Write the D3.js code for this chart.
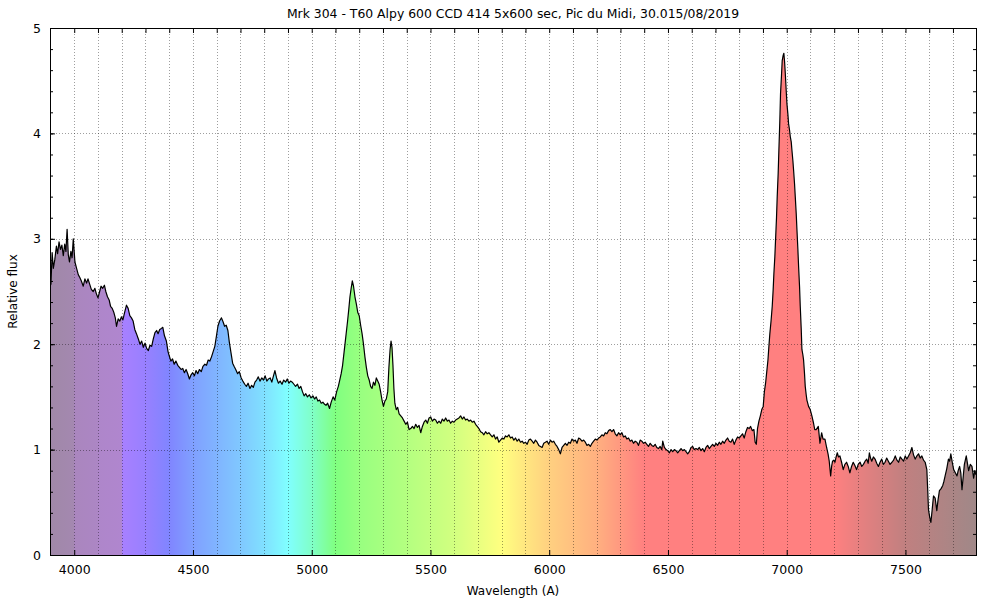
<!DOCTYPE html>
<html><head><meta charset="utf-8">
<script src="https://cdn.jsdelivr.net/npm/d3@7"></script>
<style>
body{margin:0;background:#fff;}
svg text{font-family:"DejaVu Sans",Verdana,sans-serif;fill:#000;}
</style></head>
<body><svg id="chart" width="1000" height="600"></svg>
<script>
const title = "Mrk 304 - T60 Alpy 600 CCD 414 5x600 sec, Pic du Midi, 30.015/08/2019";
const xLabel = "Wavelength (A)";
const yLabel = "Relative flux";
const xTickValues = [4000,4500,5000,5500,6000,6500,7000,7500];
const yTickValues = [0,1,2,3,4,5];
const xDomain = [3898, 7797];
const yDomain = [0, 5];

const wavelength = [3898,3902,3907,3912,3918,3925,3930,3936,3942,3948,3954,3960,3965,3970,3975,3980,3986,3991,3996,
4003,4010,4017,4024,4030,4038,4045,4052,4058,4065,4072,4080,4087,4093,4100,4107,4113,4120,4127,4133,4140,4147,4153,4160,4167,4173,4178,4185,4192,4199,
4205,4212,4220,4227,4234,4241,4248,4255,4262,4270,4277,4284,4291,4298,4305,4312,4319,4326,4333,4340,4347,4353,4360,4367,4373,4380,4388,4395,
4400,4407,4414,4421,4428,4436,4443,4450,4457,4464,4471,4478,4485,4492,4499,4506,4513,4520,4527,4535,4542,4550,4557,4564,4571,4578,4585,4592,4599,
4605,4612,4620,4627,4633,4640,4647,4653,4660,4667,4673,4680,4688,4695,4703,4710,4718,4725,4732,4740,4747,4754,4761,4768,4775,4782,4790,4797,
4804,4811,4818,4825,4832,4839,4845,4852,4860,4867,4875,4882,4890,4897,4904,4911,4918,4925,4932,4940,4947,4954,4961,4968,4975,4982,4990,4997,
5005,5012,5019,5026,5033,5040,5047,5054,5060,5067,5075,5082,5090,5097,5105,5112,5118,5124,5130,5136,5141,5146,5151,5156,5161,5166,5171,5176,5182,5188,5194,
5200,5206,5212,5218,5224,5230,5236,5242,5248,5254,5260,5266,5272,5278,5284,5290,5296,5302,5308,5314,5320,5325,5330,5334,5338,5342,5346,5350,5356,5362,5368,5375,5382,5389,5396,
5403,5410,5417,5424,5431,5438,5445,5452,5459,5466,5473,5480,5487,5494,5501,5508,5515,5522,5529,5536,5543,5550,5557,5564,5571,5578,5585,5592,5599,
5606,5613,5620,5627,5634,5641,5648,5655,5662,5669,5676,5683,5690,5697,5704,5711,5718,5725,5732,5739,5746,5753,5760,5767,5774,5781,5788,5795,
5802,5809,5816,5823,5830,5837,5844,5851,5858,5865,5872,5879,5886,5893,5900,5907,5914,5921,5928,5935,5942,5949,5956,5963,5970,5977,5984,5991,5998,
6005,6012,6019,6026,6033,6040,6047,6054,6061,6068,6075,6082,6089,6096,6103,6110,6117,6124,6131,6138,6145,6152,6159,6166,6173,6180,6187,6194,
6201,6208,6215,6222,6229,6236,6243,6250,6257,6264,6271,6278,6285,6292,6299,6306,6313,6320,6327,6334,6341,6348,6355,6362,6369,6376,6383,6390,6397,
6404,6411,6418,6425,6432,6439,6446,6453,6460,6467,6474,6478,6485,6492,6499,6506,6513,6520,6527,6534,6541,6548,6555,6562,6569,6576,6583,6590,6597,
6604,6611,6618,6625,6632,6639,6646,6653,6660,6667,6674,6681,6688,6695,6702,6709,6716,6723,6730,6737,6744,6751,6758,6765,6772,6779,6786,6793,
6800,6807,6814,6821,6828,6835,6842,6848,6855,6862,6867,6872,6877,6883,6889,6895,6901,6906,6911,6916,6921,6925,6929,6934,6939,6943,6946,6950,6953,6957,6960,6964,6967,6971,6974,6978,6981,6985,6988,6991,6994,6998,
7001,7005,7008,7012,7015,7019,7022,7026,7029,7033,7036,7040,7043,7047,7050,7054,7057,7061,7064,7068,7071,7075,7078,7082,7085,7092,7099,
7106,7113,7118,7124,7133,7140,7147,7153,7161,7168,7174,7179,7185,7189,7193,7198,
7203,7208,7213,7218,7224,7231,7238,7245,7252,7259,7266,7273,7280,7287,7294,
7301,7309,7316,7323,7330,7337,7343,7348,7353,7358,7365,7372,7379,7386,7393,
7400,7407,7414,7421,7428,7435,7443,7450,7457,7464,7471,7478,7485,7492,7499,
7506,7513,7520,7527,7534,7541,7548,7555,7562,7569,7576,7583,7590,7594,7597,
7602,7607,7612,7618,7625,7632,7637,7643,7650,7657,7662,7667,7674,7681,7686,7691,7697,
7703,7710,7717,7722,7728,7733,7738,7743,7748,7752,7756,7761,7766,7773,7780,7784,7787,7792,7797];

const flux = [2.55,2.57,2.87,2.72,2.80,2.93,2.86,2.97,2.90,2.94,2.84,2.95,2.88,3.09,2.85,2.78,2.88,2.82,3.00,
2.78,2.72,2.66,2.63,2.60,2.55,2.62,2.58,2.62,2.57,2.52,2.50,2.53,2.48,2.44,2.50,2.55,2.53,2.56,2.50,2.45,2.42,2.36,2.34,2.30,2.25,2.17,2.24,2.22,2.26,
2.23,2.30,2.37,2.34,2.27,2.25,2.22,2.14,2.10,2.05,2.00,2.03,1.97,2.01,1.96,1.94,1.99,1.98,2.05,2.11,2.13,2.10,2.14,2.15,2.16,2.08,2.03,1.93,
1.89,1.84,1.86,1.81,1.84,1.80,1.78,1.76,1.77,1.73,1.76,1.72,1.67,1.71,1.73,1.70,1.75,1.72,1.76,1.74,1.79,1.81,1.80,1.85,1.84,1.88,1.93,1.98,2.08,
2.17,2.22,2.25,2.21,2.17,2.18,2.13,2.02,1.92,1.82,1.79,1.76,1.72,1.74,1.68,1.65,1.62,1.60,1.63,1.58,1.61,1.59,1.64,1.66,1.69,1.65,1.68,1.66,
1.70,1.65,1.67,1.68,1.64,1.70,1.75,1.68,1.63,1.65,1.62,1.66,1.64,1.67,1.63,1.65,1.64,1.62,1.60,1.62,1.58,1.60,1.55,1.51,1.53,1.50,1.52,1.49,
1.51,1.48,1.50,1.46,1.47,1.44,1.45,1.43,1.42,1.44,1.39,1.45,1.50,1.47,1.55,1.60,1.66,1.72,1.80,1.92,2.02,2.12,2.22,2.33,2.45,2.53,2.60,2.55,2.45,2.38,2.30,
2.27,2.18,2.10,2.00,1.88,1.78,1.70,1.66,1.60,1.58,1.64,1.61,1.68,1.65,1.62,1.55,1.47,1.41,1.46,1.48,1.55,1.78,1.95,2.03,1.97,1.80,1.58,1.44,1.38,1.40,1.34,1.32,1.30,1.27,1.24,
1.26,1.19,1.20,1.22,1.20,1.24,1.21,1.23,1.16,1.22,1.26,1.28,1.25,1.30,1.31,1.27,1.29,1.28,1.25,1.27,1.25,1.29,1.27,1.30,1.27,1.28,1.25,1.27,1.26,
1.28,1.29,1.30,1.32,1.29,1.31,1.28,1.29,1.27,1.28,1.26,1.27,1.24,1.22,1.20,1.17,1.16,1.14,1.17,1.15,1.16,1.14,1.12,1.14,1.10,1.12,1.07,1.09,
1.11,1.10,1.13,1.12,1.14,1.11,1.12,1.09,1.11,1.08,1.10,1.07,1.08,1.06,1.07,1.05,1.09,1.10,1.08,1.06,1.09,1.07,1.04,1.03,1.02,1.06,1.07,1.08,1.05,
1.09,1.07,1.08,1.05,1.03,1.00,0.96,1.02,1.04,1.06,1.04,1.07,1.06,1.10,1.08,1.09,1.06,1.11,1.10,1.08,1.09,1.07,1.04,1.05,1.03,1.06,1.08,1.10,
1.09,1.11,1.12,1.14,1.13,1.16,1.15,1.18,1.19,1.17,1.19,1.15,1.13,1.16,1.14,1.16,1.12,1.13,1.10,1.11,1.08,1.09,1.06,1.08,1.07,1.04,1.09,1.08,1.06,
1.07,1.05,1.03,1.06,1.04,1.03,1.05,1.02,1.01,1.03,1.00,1.08,1.02,1.00,0.99,0.97,1.00,0.98,1.00,0.99,0.97,0.99,1.01,0.99,1.00,0.98,0.96,0.98,1.02,
1.03,1.00,1.01,1.00,1.02,0.99,1.01,0.98,1.02,1.04,1.01,1.03,1.05,1.03,1.06,1.04,1.07,1.05,1.08,1.06,1.09,1.11,1.08,1.07,1.10,1.05,1.09,1.12,
1.11,1.13,1.15,1.11,1.17,1.21,1.20,1.22,1.18,1.19,1.07,1.05,1.20,1.27,1.32,1.38,1.41,1.55,1.63,1.74,1.85,1.98,2.10,2.22,2.36,2.52,2.67,2.83,2.99,3.20,3.40,3.62,3.84,4.12,4.38,4.55,4.69,4.74,4.76,4.68,4.57,4.40,
4.28,4.18,4.09,4.03,3.97,3.92,3.84,3.74,3.65,3.52,3.40,3.24,3.09,2.90,2.74,2.55,2.36,2.15,1.95,1.90,1.85,1.72,1.60,1.52,1.47,1.41,1.38,
1.32,1.25,1.19,1.19,1.22,1.06,1.16,1.10,1.10,1.02,0.96,0.89,0.75,0.84,0.89,0.90,
0.88,0.93,0.97,0.93,0.94,0.88,0.81,0.86,0.88,0.84,0.78,0.84,0.88,0.85,0.81,
0.86,0.88,0.84,0.86,0.89,0.91,0.87,0.97,0.92,0.89,0.93,0.91,0.87,0.84,0.88,
0.91,0.86,0.88,0.92,0.89,0.86,0.88,0.90,0.94,0.90,0.88,0.93,0.91,0.89,0.94,
0.91,0.94,0.97,1.02,0.95,0.91,0.94,0.96,0.92,0.94,0.90,0.88,0.81,0.60,0.43,
0.36,0.31,0.42,0.56,0.54,0.42,0.52,0.61,0.63,0.66,0.70,0.75,0.82,0.91,0.89,0.96,0.88,
0.81,0.78,0.75,0.80,0.84,0.78,0.62,0.74,0.86,0.90,0.94,0.87,0.80,0.86,0.84,0.78,0.73,0.80,0.76];

const colorStopWavelength = [3898,3999,4000,4099,4100,4199,4200,4300,4400,4500,4600,4700,4800,4900,5000,5100,5200,5400,5600,5800,5900,6000,6200,6400,7200,7300,7500,7797];
const colorStopColor = ["#a088a8","#a488b0","#aa86be","#ac86c4","#ae86ca","#b086ce","#a880ff","#9880ff","#8085ff","#80a0ff","#80b4ff","#80c8ff","#80e0ff","#80ffff","#80ffc8","#80ff80","#98ff80","#b4ff80","#d2ff80","#ffff80","#ffe680","#ffd080","#ffb080","#ff8080","#ff8080","#e88080","#c08080","#a08888"];

const svg = d3.select("#chart");
const L = 50, R = 976, T = 28, B = 555;
const x = d3.scaleLinear().domain(xDomain).range([L, R]);
const y = d3.scaleLinear().domain(yDomain).range([B, T]);

const defs = svg.append("defs");
const grad = defs.append("linearGradient").attr("id","spec")
  .attr("gradientUnits","userSpaceOnUse").attr("x1",x(xDomain[0])).attr("x2",x(xDomain[1])).attr("y1",0).attr("y2",0);
colorStopWavelength.forEach((w,i)=>{
  grad.append("stop").attr("offset",(w-xDomain[0])/(xDomain[1]-xDomain[0])).attr("stop-color",colorStopColor[i]);
});
defs.append("clipPath").attr("id","clip").append("rect").attr("x",L).attr("y",T).attr("width",R-L).attr("height",B-T);

const data = wavelength.map((w,i)=>({w, f: flux[i]}));

const area = d3.area().x(d=>x(d.w)).y0(y(0)).y1(d=>y(d.f));
const line = d3.line().x(d=>x(d.w)).y(d=>y(d.f));

const g = svg.append("g").attr("clip-path","url(#clip)");
g.append("path").datum(data).attr("d",area).attr("fill","url(#spec)");

// grid
const gridX = d3.range(4000, 7800, 100);
svg.append("g").selectAll("line").data(gridX).join("line")
  .attr("x1",d=>Math.round(x(d))+0.5).attr("x2",d=>Math.round(x(d))+0.5).attr("y1",T).attr("y2",B)
  .attr("stroke","#000").attr("stroke-opacity",0.38).attr("stroke-dasharray","1,2");
svg.append("g").selectAll("line").data([1,2,3,4]).join("line")
  .attr("x1",L).attr("x2",R).attr("y1",d=>Math.round(y(d))+0.5).attr("y2",d=>Math.round(y(d))+0.5)
  .attr("stroke","#000").attr("stroke-opacity",0.38).attr("stroke-dasharray","1,2");

g.append("path").datum(data).attr("d",line).attr("fill","none").attr("stroke","#000").attr("stroke-width",1.2).attr("stroke-linejoin","round");

// axes
const minorY = d3.range(0, 5.01, 0.2);
const fmt = d3.format("d");
svg.append("g").attr("transform",`translate(0,${B})`)
  .call(d3.axisBottom(x).tickValues(xTickValues).tickFormat(fmt).tickSizeInner(-5).tickSizeOuter(0).tickPadding(10))
  .call(s=>{s.select(".domain").remove(); s.selectAll("text").attr("font-size",12.5).attr("fill","#000");});
svg.append("g").attr("transform",`translate(0,${T})`)
  .call(d3.axisTop(x).tickValues(gridX).tickFormat("").tickSizeInner(-5).tickSizeOuter(0))
  .call(s=>s.select(".domain").remove());
svg.append("g").attr("transform",`translate(${L},0)`)
  .call(d3.axisLeft(y).tickValues(yTickValues).tickFormat(fmt).tickSizeInner(-5).tickSizeOuter(0).tickPadding(9))
  .call(s=>{s.select(".domain").remove(); s.selectAll("text").attr("font-size",12.5).attr("fill","#000");});
svg.append("g").attr("transform",`translate(${L},0)`)
  .call(d3.axisLeft(y).tickValues(minorY).tickFormat("").tickSizeInner(-3).tickSizeOuter(0))
  .call(s=>s.select(".domain").remove());
svg.append("g").attr("transform",`translate(${R},0)`)
  .call(d3.axisRight(y).tickValues(minorY).tickFormat("").tickSizeInner(-3).tickSizeOuter(0))
  .call(s=>s.select(".domain").remove());

svg.append("rect").attr("x",L+0.5).attr("y",T+0.5).attr("width",R-L).attr("height",B-T)
  .attr("fill","none").attr("stroke","#000").attr("stroke-width",1);

svg.append("text").attr("x",(L+R)/2).attr("y",18).attr("text-anchor","middle").attr("font-size",12.4).text(title);
svg.append("text").attr("x",(L+R)/2).attr("y",595).attr("text-anchor","middle").attr("font-size",12).text(xLabel);
svg.append("text").attr("transform",`translate(17,${(T+B)/2}) rotate(-90)`).attr("text-anchor","middle").attr("font-size",12).text(yLabel);
</script></body></html>
